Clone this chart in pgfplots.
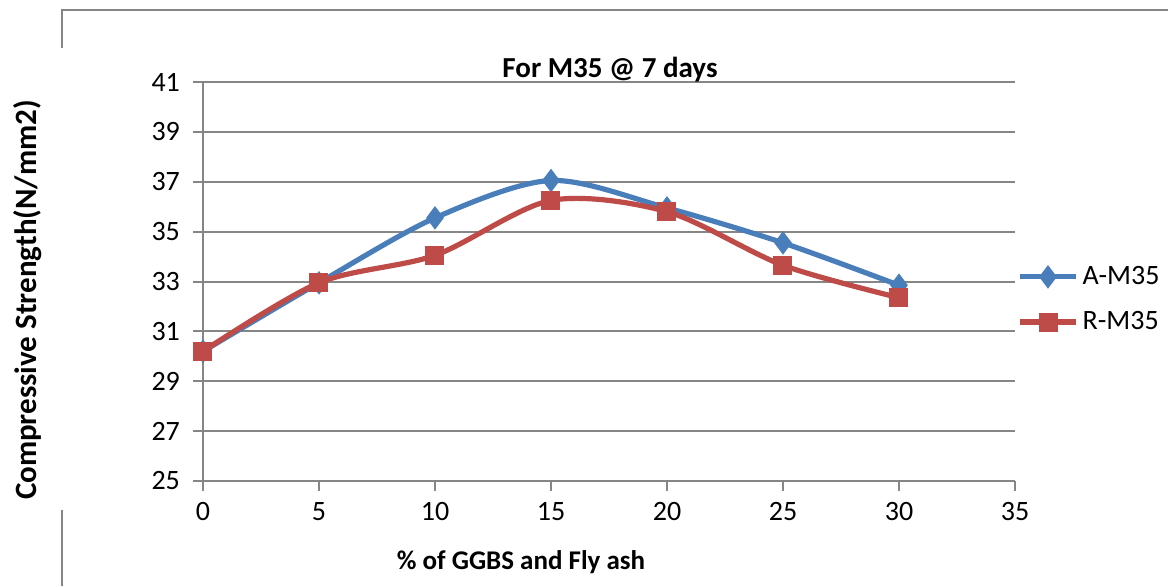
\documentclass[border=0pt]{standalone}
\usepackage{pgfplots}
\pgfplotsset{compat=1.18}
\usepackage{fontspec}
\setmainfont{Carlito}
\definecolor{ablue}{HTML}{4A7EBB}
\definecolor{rred}{HTML}{BE4B48}
\definecolor{gline}{HTML}{868686}
\begin{document}
\begin{tikzpicture}
\path[use as bounding box] (0pt,0pt) rectangle (584pt,293pt);
% outer frame fragments
\draw[gline,line width=1pt] (31pt,269pt) -- (31pt,288pt) -- (584pt,288pt);
\draw[gline,line width=1pt] (31pt,0pt) -- (31pt,38pt);
\begin{axis}[
  at={(101.5pt,52.5pt)}, anchor=south west,
  scale only axis, width=406pt, height=199.5pt,
  xmin=0, xmax=35, ymin=25, ymax=41,
  xtick={0,5,...,35}, ytick={25,27,...,41},
  axis lines*=left,
  axis line style={gline,line width=1pt},
  every tick/.style={gline,line width=1pt},
  tick align=outside, major tick length=5pt,
  ymajorgrids, grid style={gline,line width=1pt},
  tick label style={font=\fontsize{14}{16}\selectfont},
  /pgf/number format/assume math mode=true,
  xticklabel style={yshift=-2pt},
  yticklabel style={xshift=-3pt},
  legend style={at={(1.0,0.455)}, anchor=west, draw=none, fill=none,
    font=\fontsize{14}{16}\selectfont, row sep=8pt, inner xsep=1pt},
  legend cell align=left,
  legend image code/.code={
    \draw[#1, mark repeat=2, mark phase=2] plot coordinates {(0pt,0pt) (14pt,0pt) (28pt,0pt)};
  },
  clip=false,
]
\addplot[ablue, line width=2.6pt, smooth, tension=0.5, mark=diamond*, mark size=5.5pt,
  mark options={solid, line width=0.5pt, fill=ablue}]
  coordinates {(0,30.2) (5,32.95) (10,35.55) (15,37.05) (20,35.95) (25,34.55) (30,32.85)};
\addlegendentry{A-M35}
\addplot[rred, line width=2.6pt, smooth, tension=0.5, mark=square*, mark size=4.5pt,
  mark options={solid, line width=0.5pt, fill=rred}]
  coordinates {(0,30.2) (5,32.95) (10,34.05) (15,36.25) (20,35.8) (25,33.65) (30,32.35)};
\addlegendentry{R-M35}
\end{axis}
\node[font=\bfseries\fontsize{14.5}{16}\selectfont] at (305pt,258pt) {For M35 @ 7 days};
\node[font=\bfseries\fontsize{15.5}{17}\selectfont, rotate=90] at (14pt,143pt) {Compressive Strength(N/mm2)};
\node[font=\bfseries\fontsize{13.5}{16}\selectfont] at (260.5pt,12pt) {\% of GGBS and Fly ash};
\end{tikzpicture}
\end{document}
